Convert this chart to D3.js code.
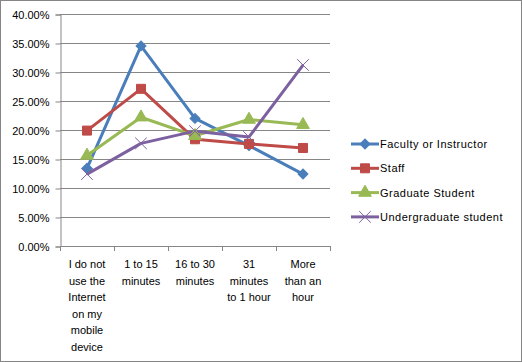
<!DOCTYPE html>
<html>
<head>
<meta charset="utf-8">
<script src="https://cdn.jsdelivr.net/npm/d3@7"></script>
<style>
  body { margin: 0; background: #fff; }
  text { font-family: "Liberation Sans", Arial, sans-serif; fill: #000; }
</style>
</head>
<body>
<div id="chart"></div>
<script>
// Categories (line-broken the way the chart wraps them)
var categories = [
    ["I do not", "use the", "Internet", "on my", "mobile", "device"],
    ["1 to 15", "minutes"],
    ["16 to 30", "minutes"],
    ["31", "minutes", "to 1 hour"],
    ["More", "than an", "hour"]
];

var seriesNames = ["Faculty or Instructor", "Staff", "Graduate Student", "Undergraduate student"];

var faculty = [0.134, 0.345, 0.220, 0.173, 0.124];
var staff = [0.199, 0.271, 0.184, 0.176, 0.169];
var grad = [0.156, 0.222, 0.190, 0.218, 0.209];
var undergrad = [0.124, 0.177, 0.198, 0.188, 0.312];

var yTicks = [0, 0.05, 0.10, 0.15, 0.20, 0.25, 0.30, 0.35, 0.40];

var colors = ["#4A7EBB", "#BE4B48", "#98B954", "#7D60A0"];
// diamond is drawn as a square turned 45 degrees
var symbols = [d3.symbolSquare, d3.symbolSquare, d3.symbolTriangle, d3.symbolX];

var svgWidth = 522;
var svgHeight = 362;

var margin = { top: 14, left: 60 };
var chartWidth = 270;
var chartHeight = 232;

var svg = d3.select("#chart")
    .append("svg")
    .attr("width", svgWidth)
    .attr("height", svgHeight);

// outer chart border
svg.append("rect")
    .attr("x", 0.5).attr("y", 0.5)
    .attr("width", svgWidth - 1).attr("height", svgHeight - 1)
    .attr("fill", "#fff")
    .attr("stroke", "#868686");

var chartGroup = svg.append("g")
    .attr("transform", `translate(${margin.left}, ${margin.top})`);

var xScale = d3.scaleBand()
    .domain(d3.range(categories.length))
    .range([0, chartWidth]);

var yScale = d3.scaleLinear()
    .domain([0, 0.40])
    .range([chartHeight, 0]);

// gridlines
chartGroup.append("g")
    .selectAll("line")
    .data(yTicks)
    .join("line")
    .attr("x1", 0)
    .attr("x2", chartWidth)
    .attr("y1", d => Math.round(yScale(d)) + 0.5)
    .attr("y2", d => Math.round(yScale(d)) + 0.5)
    .attr("stroke", "#868686");

// y axis
var leftAxis = d3.axisLeft(yScale)
    .tickValues(yTicks)
    .tickFormat(d3.format(".2%"))
    .tickSize(5)
    .tickPadding(6);

var yAxisG = chartGroup.append("g")
    .attr("transform", "translate(0.5,0.5)")
    .call(leftAxis);
yAxisG.selectAll("path, line").attr("stroke", "#868686");
yAxisG.selectAll("text")
    .style("font-size", "11px")
    .style("font-family", "'Liberation Sans', Arial, sans-serif")
    .attr("fill", "#000");

// x axis: ticks at category boundaries
var bounds = d3.range(categories.length + 1).map(i => i * xScale.bandwidth());
chartGroup.append("line")
    .attr("x1", 0).attr("x2", chartWidth)
    .attr("y1", chartHeight + 0.5).attr("y2", chartHeight + 0.5)
    .attr("stroke", "#868686");
chartGroup.append("g")
    .selectAll("line")
    .data(bounds)
    .join("line")
    .attr("x1", d => Math.round(d) + 0.5)
    .attr("x2", d => Math.round(d) + 0.5)
    .attr("y1", chartHeight)
    .attr("y2", chartHeight + 5)
    .attr("stroke", "#868686");

// x labels
var xLabels = chartGroup.append("g")
    .selectAll("text")
    .data(categories)
    .join("text")
    .attr("text-anchor", "middle")
    .style("font-size", "11px")
    .attr("x", (d, i) => xScale(i) + xScale.bandwidth() / 2)
    .attr("y", chartHeight + 22);
xLabels.selectAll("tspan")
    .data(d => d)
    .join("tspan")
    .attr("x", function () { return d3.select(this.parentNode).attr("x"); })
    .attr("dy", (d, i) => i === 0 ? 0 : 16.5)
    .text(d => d);

// series
var allSeries = [faculty, staff, grad, undergrad];
var line = d3.line()
    .x((d, i) => xScale(i) + xScale.bandwidth() / 2)
    .y(d => yScale(d));

allSeries.forEach((vals, s) => {
    chartGroup.append("path")
        .datum(vals)
        .attr("d", line)
        .attr("fill", "none")
        .attr("stroke", colors[s])
        .attr("stroke-width", 3)
        .attr("stroke-linejoin", "round");
});

var symbolSizes = [50, 81, 70, 90];
function drawMarker(g, s, x, y) {
    var sym = d3.symbol().type(symbols[s]).size(symbolSizes[s]);
    var p = g.append("path")
        .attr("d", sym())
        .attr("transform", `translate(${x},${y})` + (s === 0 ? " rotate(45)" : ""));
    if (s === 3) {
        p.attr("fill", "none").attr("stroke", colors[s]).attr("stroke-width", 1);
    } else {
        p.attr("fill", colors[s]).attr("stroke", colors[s]).attr("stroke-width", 1);
    }
}

allSeries.forEach((vals, s) => {
    var mg = chartGroup.append("g");
    vals.forEach((v, i) => {
        drawMarker(mg, s, xScale(i) + xScale.bandwidth() / 2, yScale(v));
    });
});

// legend
var legend = svg.append("g")
    .attr("transform", "translate(351, 144)");
seriesNames.forEach((name, s) => {
    var row = legend.append("g").attr("transform", `translate(0, ${s * 24.3})`);
    row.append("line")
        .attr("x1", 0).attr("x2", 28)
        .attr("stroke", colors[s])
        .attr("stroke-width", 3);
    drawMarker(row, s, 14, 0);
    row.append("text")
        .attr("x", 29)
        .attr("y", 4)
        .style("font-size", "11px")
        .style("letter-spacing", "0.5px")
        .text(name);
});
</script>
</body>
</html>
